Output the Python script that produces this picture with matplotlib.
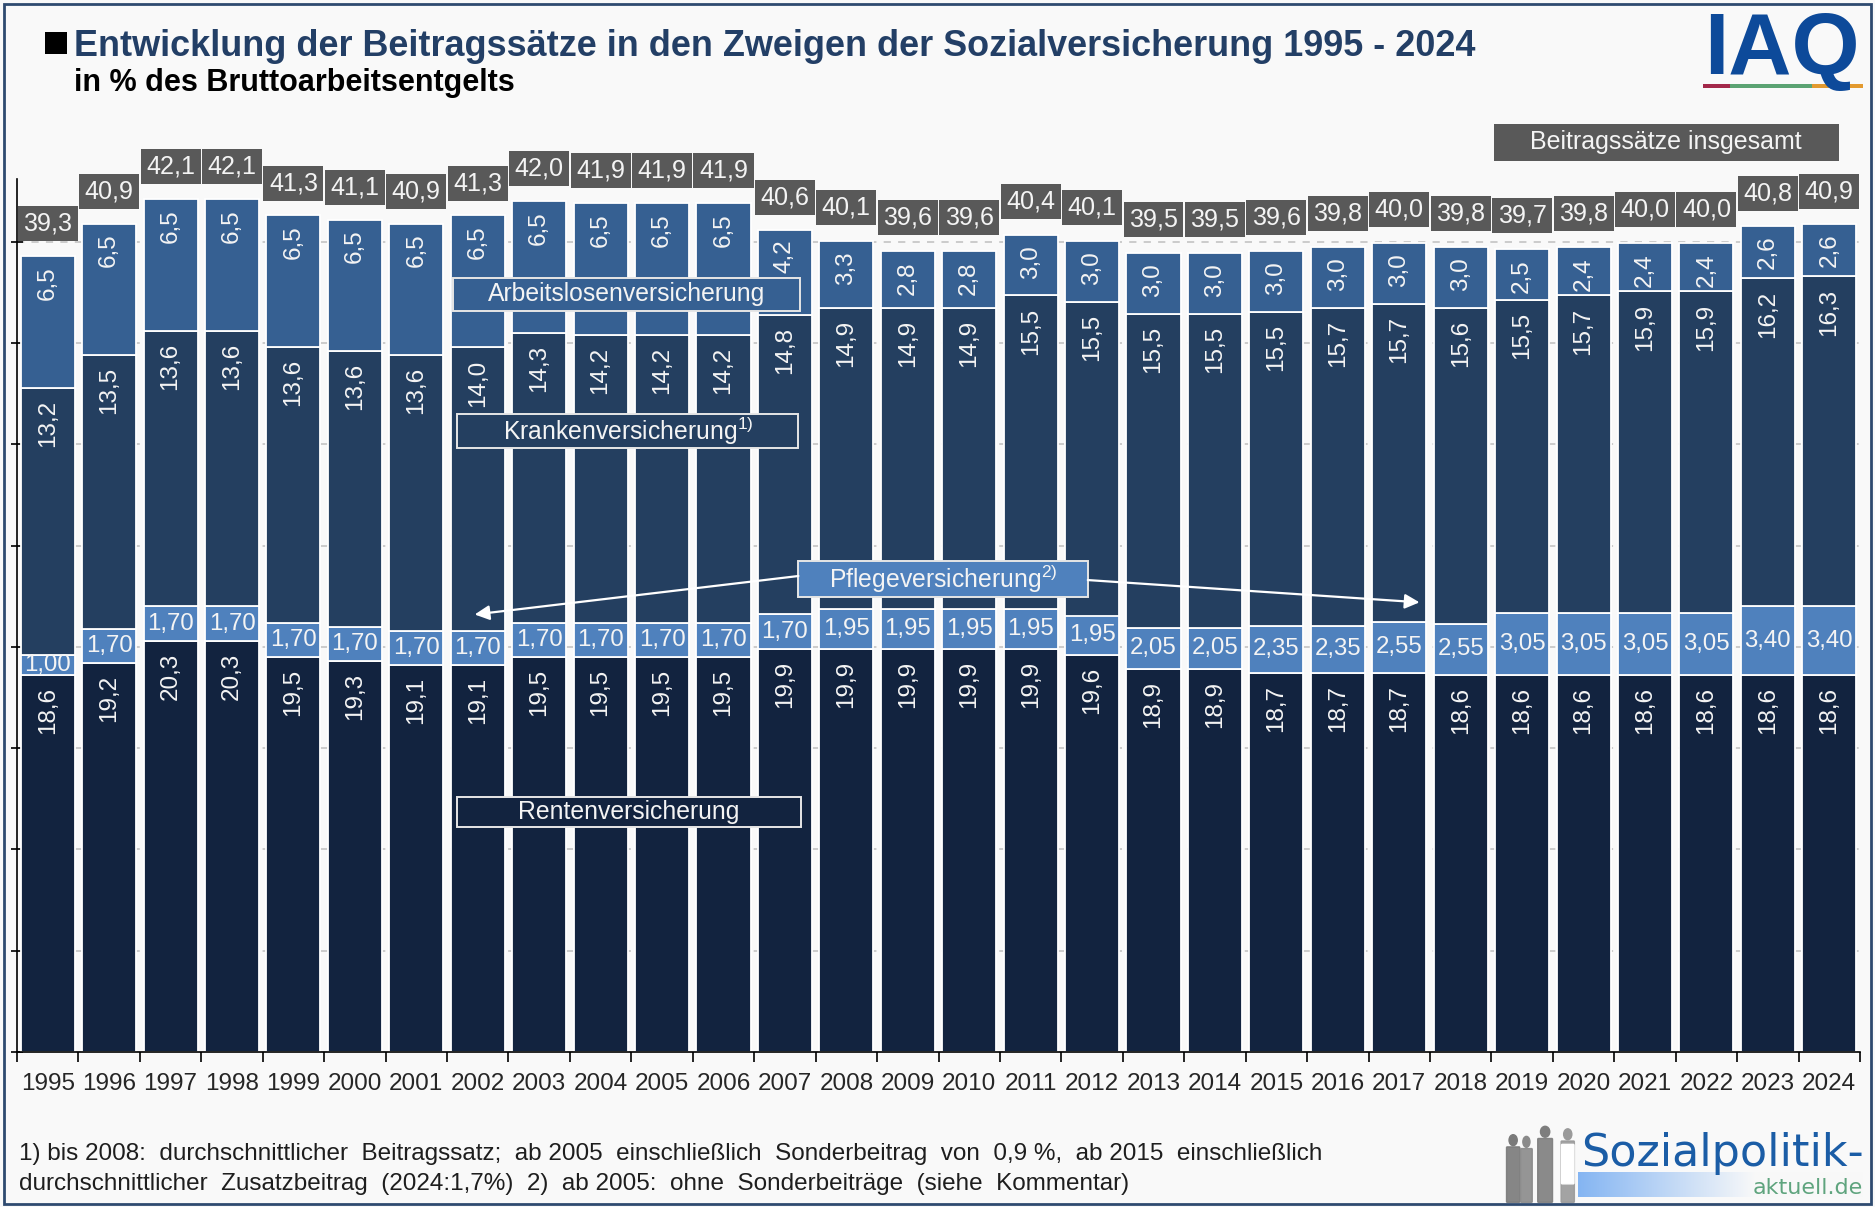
import matplotlib
matplotlib.use("Agg")
import matplotlib.pyplot as plt
from matplotlib import font_manager
from matplotlib.patches import Rectangle, Ellipse, FancyBboxPatch
import numpy as np

# ---------------- data ----------------
years = [str(y) for y in range(1995, 2025)]
renten = [18.6, 19.2, 20.3, 20.3, 19.5, 19.3, 19.1, 19.1, 19.5, 19.5, 19.5, 19.5, 19.9, 19.9, 19.9,
          19.9, 19.9, 19.6, 18.9, 18.9, 18.7, 18.7, 18.7, 18.6, 18.6, 18.6, 18.6, 18.6, 18.6, 18.6]
pflege = [1.00, 1.70, 1.70, 1.70, 1.70, 1.70, 1.70, 1.70, 1.70, 1.70, 1.70, 1.70, 1.70, 1.95, 1.95,
          1.95, 1.95, 1.95, 2.05, 2.05, 2.35, 2.35, 2.55, 2.55, 3.05, 3.05, 3.05, 3.05, 3.40, 3.40]
kranken = [13.2, 13.5, 13.6, 13.6, 13.6, 13.6, 13.6, 14.0, 14.3, 14.2, 14.2, 14.2, 14.8, 14.9, 14.9,
           14.9, 15.5, 15.5, 15.5, 15.5, 15.5, 15.7, 15.7, 15.6, 15.5, 15.7, 15.9, 15.9, 16.2, 16.3]
alv = [6.5, 6.5, 6.5, 6.5, 6.5, 6.5, 6.5, 6.5, 6.5, 6.5, 6.5, 6.5, 4.2, 3.3, 2.8,
       2.8, 3.0, 3.0, 3.0, 3.0, 3.0, 3.0, 3.0, 3.0, 2.5, 2.4, 2.4, 2.4, 2.6, 2.6]
total = [39.3, 40.9, 42.1, 42.1, 41.3, 41.1, 40.9, 41.3, 42.0, 41.9, 41.9, 41.9, 40.6, 40.1, 39.6,
         39.6, 40.4, 40.1, 39.5, 39.5, 39.6, 39.8, 40.0, 39.8, 39.7, 39.8, 40.0, 40.0, 40.8, 40.9]

title = "Entwicklung der Beitragssätze in den Zweigen der Sozialversicherung 1995 - 2024"
subtitle = "in % des Bruttoarbeitsentgelts"
foot1 = ("1) bis 2008:  durchschnittlicher  Beitragssatz;  ab 2005  einschließlich  Sonderbeitrag  "
         "von  0,9 %,  ab 2015  einschließlich")
foot2 = "durchschnittlicher  Zusatzbeitrag  (2024:1,7%)  2)  ab 2005:  ohne  Sonderbeiträge  (siehe  Kommentar)"

# ---------------- fonts ----------------
names = {f.name for f in font_manager.fontManager.ttflist}
HAS_NARROW = 'Liberation Sans Narrow' in names
NF = 'Liberation Sans Narrow' if HAS_NARROW else 'Liberation Sans'
s = 1.0 if HAS_NARROW else 0.83
plt.rcParams['font.family'] = ['Liberation Sans', 'DejaVu Sans']
plt.rcParams['mathtext.default'] = 'regular'

BG = '#F9F9F9'
C_RENTEN = '#12233F'
C_PFLEGE = '#4F81BD'
C_KRANKEN = '#243F60'
C_ALV = '#366092'
C_TOTAL = '#595959'
TXT = '#F4F4F4'

W, H = 1875, 1207
fig = plt.figure(figsize=(W / 100, H / 100), dpi=100, facecolor=BG)

def fx(px):
    return px / W

def fy(py):
    return 1 - py / H

ax = fig.add_axes([fx(17), fy(1052), fx(1860) - fx(17), fy(179) - fy(1052)])
ax.set_facecolor(BG)
x = np.arange(len(years))
bw = 0.88

r = np.array(renten)
p = np.array(pflege)
k = np.array(kranken)
a = np.array(alv)
ax.bar(x, r, bw, color=C_RENTEN, edgecolor='white', linewidth=1.3, zorder=2)
ax.bar(x, p, bw, bottom=r, color=C_PFLEGE, edgecolor='white', linewidth=1.3, zorder=2)
ax.bar(x, k, bw, bottom=r + p, color=C_KRANKEN, edgecolor='white', linewidth=1.3, zorder=2)
ax.bar(x, a, bw, bottom=r + p + k, color=C_ALV, edgecolor='white', linewidth=1.3, zorder=2)

ax.set_xlim(-0.5, len(years) - 0.5)
ax.set_ylim(0, 43.1)

def fmt1(v):
    return f"{v:.1f}".replace('.', ',')

def fmt2(v):
    return f"{v:.2f}".replace('.', ',')

lab_fs = 21.8 * s
pfl_fs = 20.8 * s
rot_fs = 21.0 * s
for i in range(len(years)):
    ax.text(i, r[i] - 0.6, fmt1(r[i]), rotation=90, ha='center', va='top', color=TXT,
            fontsize=rot_fs, family=NF, zorder=4)
    ax.text(i, r[i] + p[i] / 2, fmt2(p[i]), ha='center', va='center', color=TXT,
            fontsize=pfl_fs, family=NF, zorder=4)
    ax.text(i, r[i] + p[i] + k[i] - 0.6, fmt1(k[i]), rotation=90, ha='center', va='top', color=TXT,
            fontsize=rot_fs, family=NF, zorder=4)
    ax.text(i, r[i] + p[i] + k[i] + a[i] - 0.5, fmt1(a[i]), rotation=90, ha='center', va='top',
            color=TXT, fontsize=rot_fs, family=NF, zorder=4)
    ax.text(i, total[i] + 1.6, fmt1(total[i]), ha='center', va='center', color=TXT,
            fontsize=lab_fs, family=NF, zorder=5, clip_on=False,
            bbox=dict(boxstyle='square,pad=0.22', fc=C_TOTAL, ec='none'))

# axes styling
for sp in ['top', 'right']:
    ax.spines[sp].set_visible(False)
ax.spines['left'].set_color('black')
ax.spines['bottom'].set_color('black')
ax.spines['left'].set_linewidth(1.2)
ax.spines['bottom'].set_linewidth(1.2)
ax.set_yticks(np.arange(0, 41, 5))
ax.set_yticklabels([])
ax.tick_params(axis='y', direction='inout', length=8, width=1.2)
ax.yaxis.grid(True, color='#C8C8C8', linestyle=(0, (4, 4)), linewidth=1.3)
ax.set_axisbelow(True)
ax.set_xticks(np.arange(-0.5, len(years), 1))
ax.set_xticklabels([])
ax.set_xticks(x, minor=True)
ax.set_xticklabels(years, minor=True, family=NF, fontsize=21 * s, color='#262626')
ax.tick_params(axis='x', which='major', direction='out', length=7, width=1.2)
ax.tick_params(axis='x', which='minor', length=0, pad=15)

# category label boxes
def catbox(x0, x1, y0, y1, fc, text):
    ax.add_patch(Rectangle((x0, y0), x1 - x0, y1 - y0, facecolor=fc, edgecolor='#E6E6E6',
                           linewidth=1.4, zorder=6))
    ax.text((x0 + x1) / 2, (y0 + y1) / 2, text, ha='center', va='center', color=TXT,
            fontsize=21.5 * s, family=NF, zorder=7)

catbox(6.60, 12.24, 36.6, 38.2, C_ALV, "Arbeitslosenversicherung")
catbox(6.67, 12.22, 29.8, 31.5, C_KRANKEN, "Krankenversicherung$^{1)}$")
catbox(12.22, 16.93, 22.45, 24.25, C_PFLEGE, "Pflegeversicherung$^{2)}$")
catbox(6.67, 12.26, 11.1, 12.6, C_RENTEN, "Rentenversicherung")

arrow = dict(arrowstyle='-|>', color='white', lw=1.6, mutation_scale=22, shrinkA=0, shrinkB=0)
ax.annotate('', xy=(6.95, 21.6), xytext=(12.22, 23.5), arrowprops=arrow, zorder=8)
ax.annotate('', xy=(22.33, 22.2), xytext=(16.93, 23.3), arrowprops=arrow, zorder=8)

# ---------------- header ----------------
fig.add_artist(Rectangle((fx(45), fy(54)), fx(22), 22 / H, transform=fig.transFigure,
                         facecolor='black', edgecolor='none'))
fig.text(fx(74), fy(56), title, ha='left', va='baseline', fontsize=25.9, weight='bold',
         color='#233F66')
fig.text(fx(74), fy(91), subtitle, ha='left', va='baseline', fontsize=22, weight='bold',
         color='black')

# IAQ logo
fig.text(fx(1782), fy(74), 'IAQ', ha='center', va='baseline', fontsize=63, weight='bold',
         color='#0D4A9A')
for (x0, x1, c) in [(1703, 1730, '#A3284A'), (1730, 1812, '#5BA373'), (1812, 1863, '#E39A2F')]:
    fig.add_artist(Rectangle((fx(x0), fy(88)), fx(x1 - x0), 4 / H, transform=fig.transFigure,
                             facecolor=c, edgecolor='none'))

# "Beitragssätze insgesamt" box
fig.add_artist(Rectangle((fx(1494), fy(161)), fx(345), 37 / H, transform=fig.transFigure,
                         facecolor=C_TOTAL, edgecolor='none'))
fig.text(fx(1666), fy(142.5), 'Beitragssätze insgesamt', ha='center', va='center',
         fontsize=18, color=TXT)

# ---------------- footnotes ----------------
fig.text(fx(19), fy(1154), foot1, ha='left', va='center', fontsize=21.1 * s, family=NF,
         color='#1E1E1E')
fig.text(fx(19), fy(1184), foot2, ha='left', va='center', fontsize=21.1 * s, family=NF,
         color='#1E1E1E')

# ---------------- Sozialpolitik-aktuell logo ----------------
gax = fig.add_axes([fx(1578), fy(1197), fx(285), 25 / H])
grad = np.linspace(0, 1, 256).reshape(1, -1)
c0 = np.array([0.52, 0.71, 0.95])
c1 = np.array([0.976, 0.976, 0.976])
wts = np.clip(grad * 1.6, 0, 1)[..., None]
img = c0 * (1 - wts) + c1 * wts
gax.imshow(img, aspect='auto', extent=(0, 1, 0, 1))
gax.set_axis_off()

fig.text(fx(1581), fy(1166), 'Sozialpolitik-', ha='left', va='baseline', fontsize=32,
         family='DejaVu Sans', color='#1B5DA6')
fig.text(fx(1863), fy(1194), 'aktuell.de', ha='right', va='baseline', fontsize=16,
         family='DejaVu Sans', color='#5FA47E')

# people silhouettes
pax = fig.add_axes([fx(1503), fy(1204), fx(78), 84 / H])
pax.set_xlim(0, 10)
pax.set_ylim(0, 10)
pax.set_axis_off()
people = [(1.3, 7.6, 1.5, '#7A7A7A'), (3.0, 7.4, 1.3, '#8A8A8A'), (5.4, 8.6, 1.7, '#7E7E7E'),
          (8.3, 8.3, 1.5, '#9A9A9A')]
for (cx, top, wdt, col) in people:
    pax.add_patch(Ellipse((cx, top), wdt * 0.7, 1.3, color=col))
    pax.add_patch(FancyBboxPatch((cx - wdt / 2, 0.3), wdt, top - 1.2, boxstyle='round,pad=0.1',
                                 color=col, alpha=0.9))
pax.add_patch(FancyBboxPatch((7.6, 2.5), 1.4, 4.5, boxstyle='round,pad=0.1', color='white'))

# frame
fig.add_artist(Rectangle((fx(4), fy(1204)), fx(1867), 1200 / H, transform=fig.transFigure,
                         facecolor='none', edgecolor='#2E4A70', linewidth=2))

fig.savefig('out.png', dpi=100, facecolor=BG)
